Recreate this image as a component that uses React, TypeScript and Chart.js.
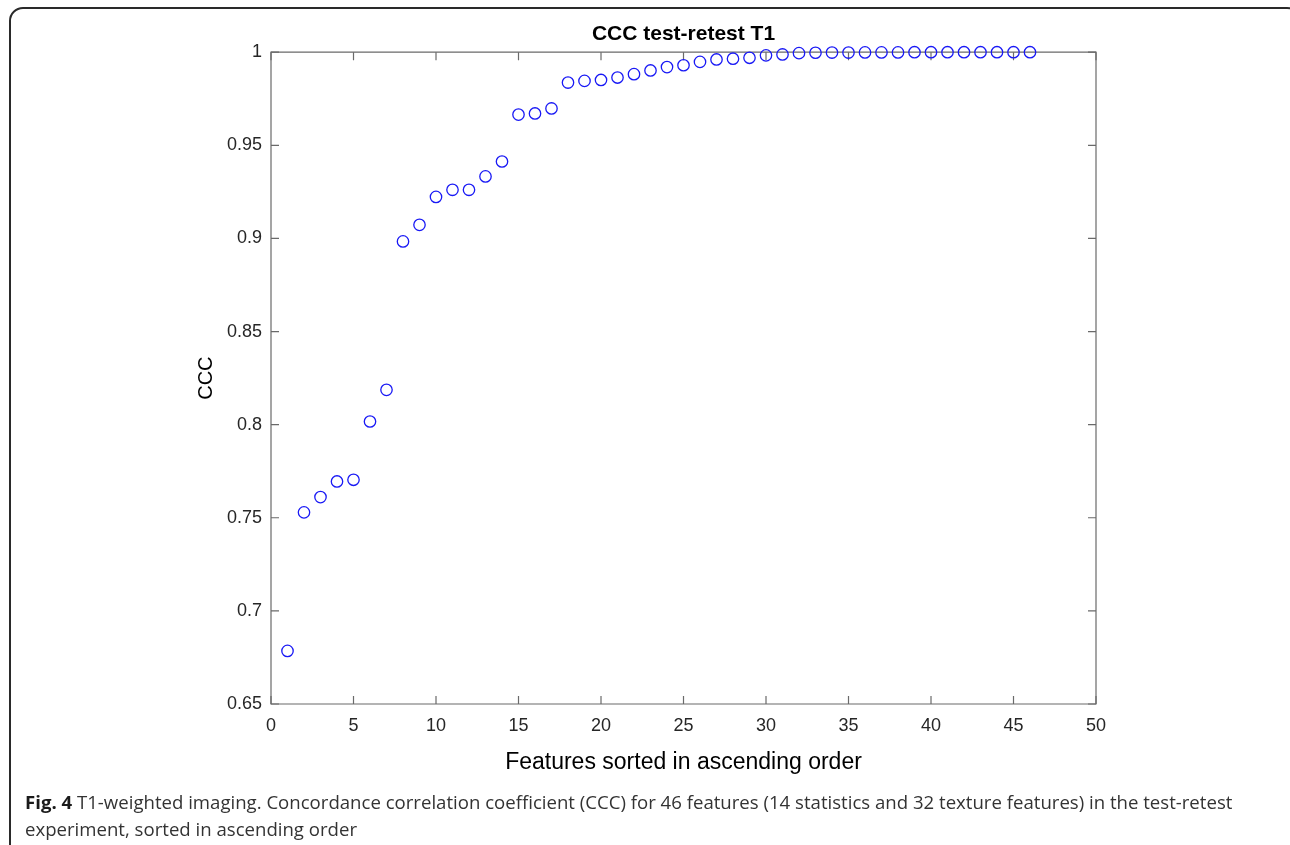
import React, { useEffect, useRef } from "react";
import { Chart, registerables } from "chart.js";

Chart.register(...registerables);

const featureIndex = [
  1, 2, 3, 4, 5, 6, 7, 8, 9, 10, 11, 12, 13, 14, 15, 16, 17, 18, 19, 20, 21, 22, 23,
  24, 25, 26, 27, 28, 29, 30, 31, 32, 33, 34, 35, 36, 37, 38, 39, 40, 41, 42, 43, 44,
  45, 46,
];
const cccValues = [
  0.6785, 0.7529, 0.7611, 0.7695, 0.7704, 0.8017, 0.8187, 0.8984, 0.9073, 0.9223,
  0.9261, 0.9261, 0.9333, 0.9413, 0.9665, 0.9671, 0.9698, 0.9837, 0.9846, 0.9851,
  0.9864, 0.9882, 0.9902, 0.992, 0.993, 0.9948, 0.9961, 0.9965, 0.997, 0.9983,
  0.9988, 0.9995, 0.9997, 0.9998, 0.9998, 0.9999, 0.9999, 0.9999, 1, 1,
  1, 1, 1, 1, 1, 1,
];
const xTicks = [0, 5, 10, 15, 20, 25, 30, 35, 40, 45, 50];
const yTicks = [0.65, 0.7, 0.75, 0.8, 0.85, 0.9, 0.95, 1];
const yTickLabels = ["0.65", "0.7", "0.75", "0.8", "0.85", "0.9", "0.95", "1"];

const FONT = "'Liberation Sans', Arial, Helvetica, sans-serif";

const boxPlugin = {
  id: "matlabBox",
  beforeDatasetsDraw(chart: any) {
    const { ctx, chartArea: a, scales } = chart;
    const len = 8;
    ctx.save();
    ctx.strokeStyle = "#6a6a6a";
    ctx.lineWidth = 1.2;
    ctx.beginPath();
    ctx.rect(a.left, a.top, a.right - a.left, a.bottom - a.top);
    ctx.stroke();
    ctx.beginPath();
    for (const v of xTicks) {
      const px = scales.x.getPixelForValue(v);
      ctx.moveTo(px, a.bottom);
      ctx.lineTo(px, a.bottom - len);
      ctx.moveTo(px, a.top);
      ctx.lineTo(px, a.top + len);
    }
    for (const v of yTicks) {
      const py = scales.y.getPixelForValue(v);
      ctx.moveTo(a.left, py);
      ctx.lineTo(a.left + len, py);
      ctx.moveTo(a.right, py);
      ctx.lineTo(a.right - len, py);
    }
    ctx.stroke();
    ctx.restore();
  },
};

export default function App() {
  const ref = useRef<HTMLCanvasElement | null>(null);

  useEffect(() => {
    if (!ref.current) return;
    const chart = new Chart(ref.current, {
      type: "scatter",
      data: {
        datasets: [
          {
            data: featureIndex.map((x, i) => ({ x, y: cccValues[i] })),
            pointStyle: "circle",
            pointRadius: 5.7,
            pointBorderWidth: 1.3,
            pointBorderColor: "rgb(25,25,245)",
            pointBackgroundColor: "rgba(0,0,0,0)",
            showLine: false,
            clip: false as any,
          },
        ],
      },
      options: {
        responsive: false,
        animation: false,
        devicePixelRatio: 1,
        layout: { padding: { left: 0, right: 194, top: 0, bottom: 61 } },
        plugins: {
          legend: { display: false },
          tooltip: { enabled: false },
          title: {
            display: true,
            fullSize: false,
            text: "CCC test-retest T1",
            color: "#000",
            font: { family: FONT, size: 21, weight: "bold" },
            padding: { top: 22, bottom: 5 },
          },
        },
        scales: {
          x: {
            type: "linear",
            min: 0,
            max: 50,
            afterFit(scale: any) {
              scale.height = 80;
            },
            afterBuildTicks(scale: any) {
              scale.ticks = xTicks.map((v) => ({ value: v }));
            },
            grid: { display: false, drawTicks: false },
            border: { display: false },
            ticks: {
              color: "#262626",
              font: { family: FONT, size: 18 },
              padding: 11,
              maxRotation: 0,
              callback: (v: any) => String(v),
            },
            title: {
              display: true,
              text: "Features sorted in ascending order",
              color: "#000",
              font: { family: FONT, size: 23 },
              padding: { top: 0, bottom: 8 },
            },
          },
          y: {
            type: "linear",
            min: 0.65,
            max: 1,
            afterFit(scale: any) {
              scale.width = 271;
            },
            afterBuildTicks(scale: any) {
              scale.ticks = yTicks.map((v) => ({ value: v }));
            },
            grid: { display: false, drawTicks: false },
            border: { display: false },
            ticks: {
              color: "#262626",
              font: { family: FONT, size: 18 },
              padding: 9,
              callback: (v: any) => {
                const i = yTicks.findIndex((t) => Math.abs(t - v) < 1e-9);
                return i >= 0 ? yTickLabels[i] : "";
              },
            },
            title: {
              display: true,
              text: "CCC",
              color: "#000",
              font: { family: FONT, size: 20 },
              padding: { top: 194, bottom: 0 },
            },
          },
        },
      },
      plugins: [boxPlugin],
    });
    return () => chart.destroy();
  }, []);

  return (
    <div
      style={{
        position: "absolute",
        left: 0,
        top: 0,
        width: 1290,
        height: 845,
        overflow: "hidden",
        background: "#fff",
      }}
    >
      <div
        style={{
          position: "absolute",
          left: 9,
          top: 7,
          width: 1292,
          height: 900,
          border: "2px solid #2a2a2a",
          borderRadius: 14,
          boxSizing: "border-box",
        }}
      />
      <canvas
        ref={ref}
        width={1290}
        height={845}
        style={{ position: "absolute", left: 0, top: 0, width: 1290, height: 845 }}
      />
      <div
        style={{
          position: "absolute",
          left: 25,
          top: 788,
          width: 1255,
          fontFamily: "'Open Sans', 'Noto Sans', sans-serif",
          fontSize: 18.6,
          lineHeight: "27px",
          color: "#333",
        }}
      >
        <span style={{ fontWeight: "bold", color: "#1a1a1a" }}>Fig. 4</span> T1-weighted
        imaging. Concordance correlation coefficient (CCC) for 46 features (14 statistics
        and 32 texture features) in the test-retest experiment, sorted in ascending order
      </div>
    </div>
  );
}
